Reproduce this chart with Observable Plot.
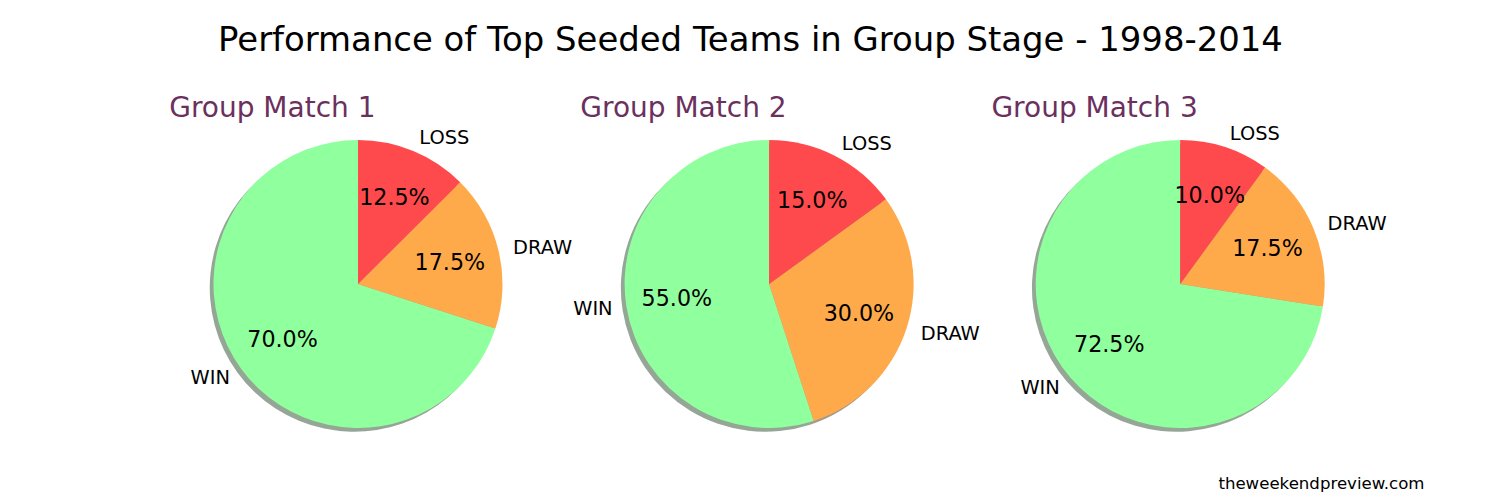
<!DOCTYPE html>
<html><head><meta charset="utf-8">
<script src="https://cdn.jsdelivr.net/npm/d3@7"></script>
<script src="https://cdn.jsdelivr.net/npm/@observablehq/plot@0.6"></script>
<style>body{margin:0;background:#fff;} svg{font-family:"DejaVu Sans";}</style>
</head><body><div id="chart"></div>
<script>
const title = "Performance of Top Seeded Teams in Group Stage - 1998-2014";
const matches = ["Group Match 1", "Group Match 2", "Group Match 3"];
const outcomes = ["WIN", "DRAW", "LOSS"];
const win = [70.0, 55.0, 72.5];
const draw = [17.5, 30.0, 17.5];
const loss = [12.5, 15.0, 10.0];
const colors = ["#90ff9e", "#ffaa4a", "#ff4a4d"];
const credit = "theweekendpreview.com";

const spacing = 2.845; // distance between pie centres, in radius units
const series = [win, draw, loss];
const slices = [];
matches.forEach((m, i) => {
  let cum = 0;
  outcomes.forEach((o, k) => {
    const v = series[k][i];
    const a0 = 90 + cum * 3.6; cum += v; const a1 = 90 + cum * 3.6;
    const mid = (a0 + a1) / 2 * Math.PI / 180;
    slices.push({match: m, i, outcome: o, value: v, a0, a1, cx: i * spacing,
      cos: Math.cos(mid), sin: Math.sin(mid), color: colors[k]});
  });
});

function pies(index, scales) {
  const {x, y} = scales;
  const rx = x(1) - x(0), ry = y(0) - y(1);
  const g = d3.create("svg:g");
  const arc = d3.arc().innerRadius(0).outerRadius(ry);
  const rad = Math.PI / 180;
  for (const s of slices) {
    const c = d3.rgb(s.color);
    g.append("path")
      .attr("d", arc({startAngle: (90 - s.a0) * rad, endAngle: (90 - s.a1) * rad}))
      .attr("transform", `translate(${x(s.cx - 0.026)},${y(-0.026)}) scale(${rx / ry},1)`)
      .attr("fill", d3.rgb(c.r * 0.3, c.g * 0.3, c.b * 0.3).formatHex())
      .attr("fill-opacity", 0.5);
  }
  for (const s of slices) {
    g.append("path")
      .attr("d", arc({startAngle: (90 - s.a0) * rad, endAngle: (90 - s.a1) * rad}))
      .attr("transform", `translate(${x(s.cx)},${y(0)}) scale(${rx / ry},1)`)
      .attr("fill", s.color);
  }
  return g.node();
}

const chart = Plot.plot({
  width: 1500, height: 500,
  marginTop: 0, marginBottom: 0, marginLeft: 0, marginRight: 0,
  x: {type: "linear", domain: [0, 1], range: [358, 502.5], axis: null},
  y: {type: "linear", domain: [0, 1], range: [284, 140], axis: null},
  style: {fontFamily: "DejaVu Sans", background: "white", color: "black"},
  marks: [
    pies,
    Plot.text(slices, {filter: d => d.cos > 0, x: d => d.cx + 1.1 * d.cos, y: d => 1.1 * d.sin,
      text: "outcome", textAnchor: "start", lineAnchor: "middle", fontSize: 19.4, fill: "black"}),
    Plot.text(slices, {filter: d => d.cos <= 0, x: d => d.cx + 1.1 * d.cos, y: d => 1.1 * d.sin,
      text: "outcome", textAnchor: "end", lineAnchor: "middle", fontSize: 19.4, fill: "black"}),
    Plot.text(slices, {x: d => d.cx + 0.65 * d.cos, y: d => 0.65 * d.sin,
      text: d => d.value.toFixed(1) + "%", textAnchor: "middle", lineAnchor: "middle", fontSize: 22.2, fill: "black"}),
    Plot.text(matches, {x: (d, i) => i * spacing - 1.31, y: 1.16, text: d => d,
      textAnchor: "start", lineAnchor: "bottom", fontSize: 28, fill: "#6b305e"}),
    Plot.text([title], {frameAnchor: "top", dy: 50, lineAnchor: "bottom", text: d => d, fontSize: 33.9, fill: "black"}),
    Plot.text([credit], {frameAnchor: "bottom-right", dx: -76, dy: -12, lineAnchor: "bottom",
      textAnchor: "end", text: d => d, fontSize: 16.6, fill: "black"})
  ]
});
document.getElementById("chart").appendChild(chart);
</script>
</body></html>
